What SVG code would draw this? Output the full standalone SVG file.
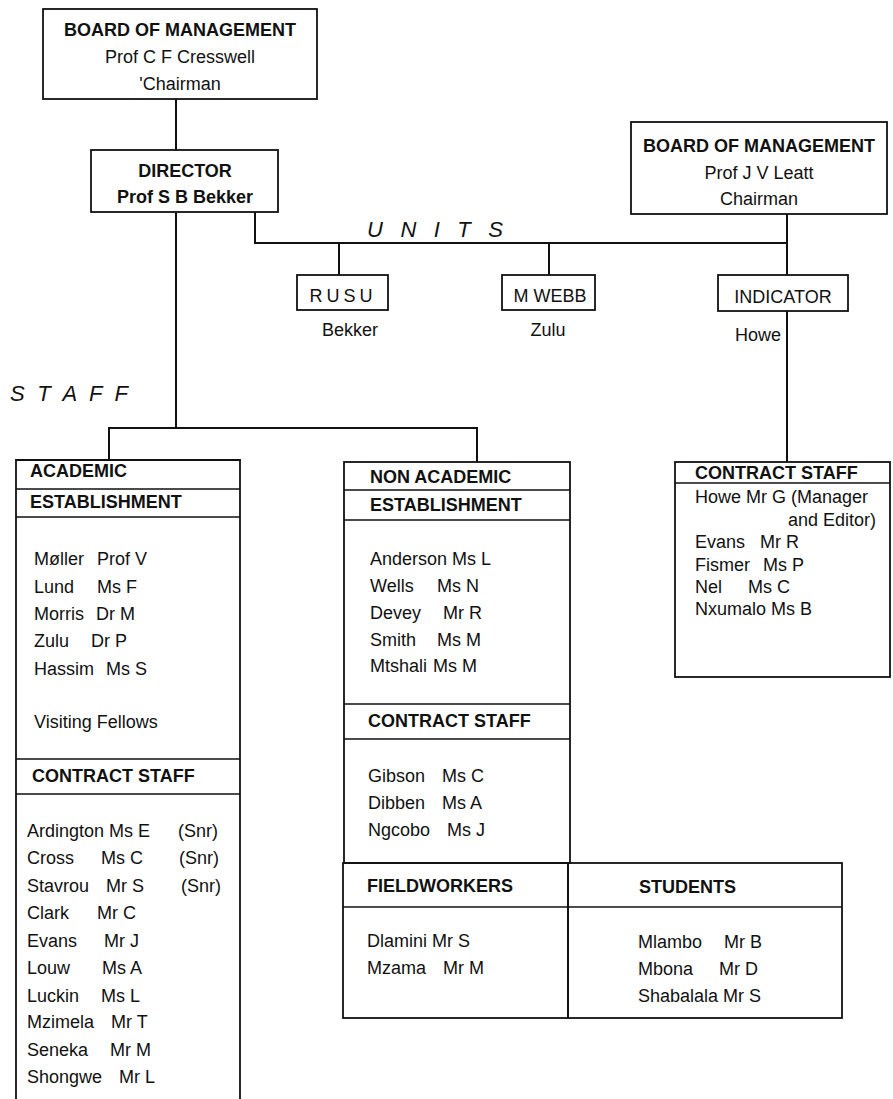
<svg xmlns="http://www.w3.org/2000/svg" width="893" height="1099" viewBox="0 0 893 1099">
<style>
text{font-family:"Liberation Sans",Arial,sans-serif;font-size:18px;fill:#111}
.b{font-weight:bold}
.c{text-anchor:middle}
.it{font-style:italic;font-size:22px}
.box{fill:none;stroke:#111;stroke-width:1.8}
.ln{fill:none;stroke:#111;stroke-width:1.6}
.con{fill:none;stroke:#111;stroke-width:2}
</style>
<rect width="893" height="1099" fill="#fff"/>
<g id="connectors">
<path class="con" d="M176 99V150"/>
<path class="con" d="M176 212V428M109 460V428H477V462"/>
<path class="con" d="M255 212V243H787"/>
<path class="con" d="M339 243V275M549 243V275"/>
<path class="con" d="M787 214V275M787 311V462"/>
</g>
<text class="it" x="367" y="237" textLength="136" lengthAdjust="spacing">U N I T S</text>
<text class="it" x="10" y="401" textLength="118" lengthAdjust="spacing">S T A F F</text>
<g id="board1">
<rect class="box" x="43" y="9" width="274" height="90"/>
<text class="b c" x="180" y="36">BOARD OF MANAGEMENT</text>
<text class="c" x="180" y="63">Prof C F Cresswell</text>
<text class="c" x="180" y="90">'Chairman</text>
</g>
<g id="director">
<rect class="box" x="91" y="150" width="187" height="62"/>
<text class="b c" x="185" y="177">DIRECTOR</text>
<text class="b c" x="185" y="203">Prof S B Bekker</text>
</g>
<g id="board2">
<rect class="box" x="631" y="122" width="256" height="92"/>
<text class="b c" x="759" y="152">BOARD OF MANAGEMENT</text>
<text class="c" x="759" y="179">Prof J V Leatt</text>
<text class="c" x="759" y="205">Chairman</text>
</g>
<g id="rusu">
<rect class="box" x="297" y="275" width="91" height="35"/>
<text class="c" x="343" y="302" letter-spacing="4">RUSU</text>
<text class="c" x="350" y="336">Bekker</text>
</g>
<g id="mwebb">
<rect class="box" x="502" y="275" width="93" height="35"/>
<text class="c" x="550" y="302">M WEBB</text>
<text class="c" x="548" y="336">Zulu</text>
</g>
<g id="indicator">
<rect class="box" x="718" y="275" width="130" height="36"/>
<text class="c" x="783" y="303">INDICATOR</text>
<text x="735" y="341">Howe</text>
</g>
<g id="academic">
<path class="box" d="M16 1099V460H240V1099"/>
<path class="ln" d="M16 489H240M16 517H240M16 759H240M16 794H240"/>
<text class="b" x="30" y="477">ACADEMIC</text>
<text class="b" x="30" y="508">ESTABLISHMENT</text>
<text x="34" y="565">Møller <tspan x="97">Prof V</tspan></text>
<text x="34" y="593">Lund <tspan x="97">Ms F</tspan></text>
<text x="34" y="620">Morris <tspan x="96">Dr M</tspan></text>
<text x="34" y="647">Zulu <tspan x="91">Dr P</tspan></text>
<text x="34" y="675">Hassim <tspan x="106">Ms S</tspan></text>
<text x="34" y="728">Visiting Fellows</text>
<text class="b" x="32" y="782">CONTRACT STAFF</text>
<text x="27" y="837">Ardington Ms E <tspan x="178">(Snr)</tspan></text>
<text x="27" y="864">Cross <tspan x="101">Ms C</tspan> <tspan x="179">(Snr)</tspan></text>
<text x="27" y="892">Stavrou <tspan x="106">Mr S</tspan> <tspan x="181">(Snr)</tspan></text>
<text x="27" y="919">Clark <tspan x="97">Mr C</tspan></text>
<text x="27" y="947">Evans <tspan x="104">Mr J</tspan></text>
<text x="27" y="974">Louw <tspan x="102">Ms A</tspan></text>
<text x="27" y="1002">Luckin <tspan x="101">Ms L</tspan></text>
<text x="27" y="1028">Mzimela <tspan x="111">Mr T</tspan></text>
<text x="27" y="1056">Seneka <tspan x="110">Mr M</tspan></text>
<text x="27" y="1083">Shongwe <tspan x="119">Mr L</tspan></text>
</g>
<g id="nonacademic">
<rect class="box" x="344" y="462" width="226" height="401"/>
<path class="ln" d="M344 490H570M344 520H570M344 704H570M344 739H570"/>
<text class="b" x="370" y="483">NON ACADEMIC</text>
<text class="b" x="370" y="511">ESTABLISHMENT</text>
<text x="370" y="565">Anderson Ms L</text>
<text x="370" y="592">Wells <tspan x="437">Ms N</tspan></text>
<text x="370" y="619">Devey <tspan x="443">Mr R</tspan></text>
<text x="370" y="646">Smith <tspan x="437">Ms M</tspan></text>
<text x="370" y="672">Mtshali <tspan x="433">Ms M</tspan></text>
<text class="b" x="368" y="727">CONTRACT STAFF</text>
<text x="368" y="782">Gibson <tspan x="442">Ms C</tspan></text>
<text x="368" y="809">Dibben <tspan x="442">Ms A</tspan></text>
<text x="368" y="836">Ngcobo <tspan x="447">Ms J</tspan></text>
</g>
<g id="fieldworkers">
<rect class="box" x="343" y="863" width="225" height="155"/>
<path class="ln" d="M343 907H568"/>
<text class="b" x="367" y="892">FIELDWORKERS</text>
<text x="367" y="947">Dlamini Mr S</text>
<text x="367" y="974">Mzama <tspan x="443">Mr M</tspan></text>
</g>
<g id="students">
<rect class="box" x="568" y="863" width="274" height="155"/>
<path class="ln" d="M568 907H842"/>
<text class="b" x="639" y="893">STUDENTS</text>
<text x="638" y="948">Mlambo <tspan x="724">Mr B</tspan></text>
<text x="638" y="975">Mbona <tspan x="719">Mr D</tspan></text>
<text x="638" y="1002">Shabalala Mr S</text>
</g>
<g id="indicator-staff">
<rect class="box" x="675" y="462" width="215" height="215"/>
<path class="ln" d="M675 483H890"/>
<text class="b" x="695" y="479">CONTRACT STAFF</text>
<text x="695" y="503">Howe Mr G (Manager</text>
<text x="788" y="526">and Editor)</text>
<text x="695" y="548">Evans <tspan x="760">Mr R</tspan></text>
<text x="695" y="571">Fismer <tspan x="763">Ms P</tspan></text>
<text x="695" y="593">Nel <tspan x="748">Ms C</tspan></text>
<text x="695" y="615">Nxumalo Ms B</text>
</g>
</svg>
